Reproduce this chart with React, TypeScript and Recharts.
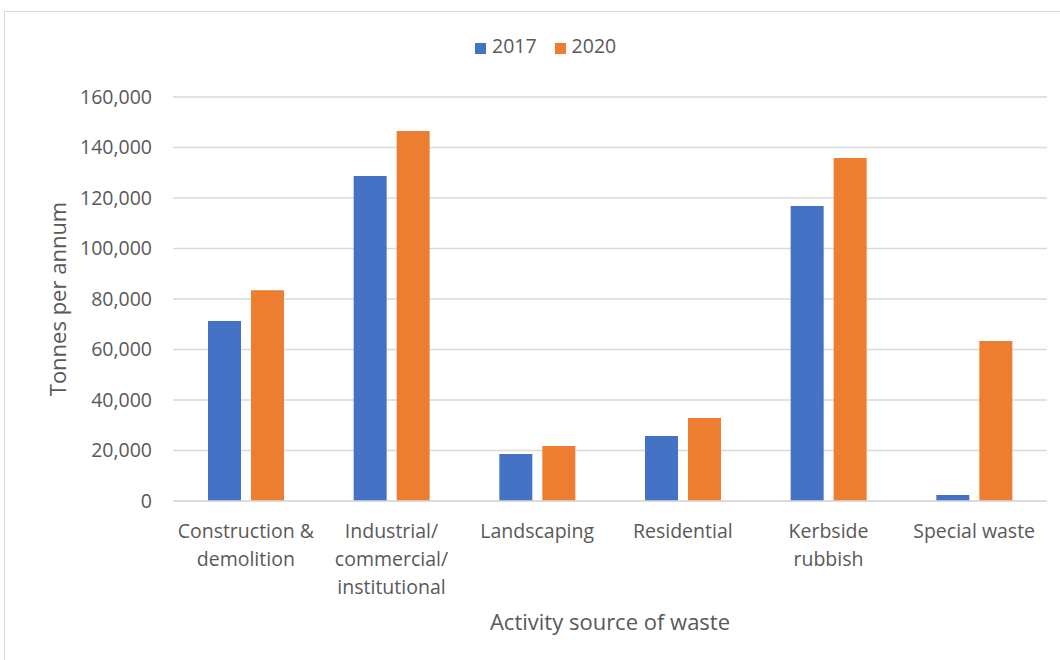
import React from 'react';
import { BarChart, Bar, XAxis, YAxis, CartesianGrid, Legend } from 'recharts';

const categories = [
  'Construction &\ndemolition',
  'Industrial/\ncommercial/\ninstitutional',
  'Landscaping',
  'Residential',
  'Kerbside\nrubbish',
  'Special waste',
];
const values2017 = [71300, 128700, 18600, 25700, 116800, 2400];
const values2020 = [83500, 146500, 21800, 32900, 135800, 63400];
const yTicks = [0, 20000, 40000, 60000, 80000, 100000, 120000, 140000, 160000];
const seriesNames = ['2017', '2020'];

const data = categories.map((c, i) => ({ name: c, v2017: values2017[i], v2020: values2020[i] }));

const FONT = '"Open Sans", sans-serif';
const TEXT = '#595959';
const GRID = '#d9d9d9';
const BLUE = '#4472C4';
const ORANGE = '#ED7D31';

const XTick = (props: any) => {
  const { x, y, payload } = props;
  const lines = String(payload.value).split('\n');
  return (
    <text x={x} y={y} textAnchor="middle" fill={TEXT} fontSize={19.5} fontFamily={FONT}>
      {lines.map((l, i) => (
        <tspan key={i} x={x} y={y + 37 + i * 28}>
          {l}
        </tspan>
      ))}
    </text>
  );
};

const YLabel = (props: any) => {
  const vb = props.viewBox || { x: 0, y: 0, width: 0, height: 0 };
  const cx = vb.x + 66;
  const cy = vb.y + vb.height / 2;
  return (
    <text
      x={cx}
      y={cy}
      textAnchor="middle"
      transform={`rotate(-90, ${cx}, ${cy})`}
      fill={TEXT}
      fontSize={22}
      fontFamily={FONT}
    >
      Tonnes per annum
    </text>
  );
};

const LegendContent = (props: any) => {
  const payload = props.payload || [];
  return (
    <div style={{ display: 'flex', alignItems: 'center', fontFamily: FONT, fontSize: 19.5, color: TEXT, lineHeight: '26px' }}>
      {payload.map((p: any, i: number) => (
        <div key={i} style={{ display: 'flex', alignItems: 'center', marginRight: 18 }}>
          <span style={{ display: 'inline-block', width: 11, height: 11, background: p.color, marginRight: 6, position: 'relative', top: 2 }} />
          <span>{p.value}</span>
        </div>
      ))}
    </div>
  );
};

export default function App() {
  return (
    <div style={{ position: 'absolute', left: 0, top: 0, width: 1060, height: 660, overflow: 'hidden', background: '#fff', fontFamily: FONT }}>
      <div style={{ position: 'absolute', left: 4, top: 11, width: 1200, height: 800, border: `1.5px solid ${GRID}` }} />
      <div style={{ position: 'absolute', left: 0, top: 0 }}>
        <BarChart
          width={1060}
          height={660}
          data={data}
          margin={{ top: 97, right: 13, bottom: 19, left: 0 }}
          barSize={33}
          barGap={10}
        >
          <CartesianGrid vertical={false} stroke={GRID} strokeWidth={1.5} />
          <XAxis
            dataKey="name"
            height={140}
            tickLine={false}
            tickSize={0}
            tickMargin={0}
            axisLine={{ stroke: GRID, strokeWidth: 1.5 }}
            interval={0}
            tick={(p: any) => <XTick {...p} />}
            label={{ value: 'Activity source of waste', position: 'insideBottom', offset: 11, fill: TEXT, fontSize: 22, fontFamily: FONT }}
          />
          <YAxis
            width={173}
            domain={[0, 160000]}
            ticks={yTicks}
            tickLine={false}
            axisLine={false}
            tickSize={0}
            tickMargin={21}
            interval={0}
            tick={{ fill: TEXT, fontSize: 19.5, fontFamily: FONT }}
            tickFormatter={(v: number) => v.toLocaleString('en-US')}
            label={(p: any) => <YLabel {...p} />}
          />
          <Legend
            layout="horizontal"
            verticalAlign="middle"
            align="center"
            content={(p: any) => <LegendContent {...p} />}
            wrapperStyle={{ top: 33, left: 475, width: 220 }}
          />
          <Bar dataKey="v2017" name={seriesNames[0]} fill={BLUE} isAnimationActive={false} />
          <Bar dataKey="v2020" name={seriesNames[1]} fill={ORANGE} isAnimationActive={false} />
        </BarChart>
      </div>
    </div>
  );
}
